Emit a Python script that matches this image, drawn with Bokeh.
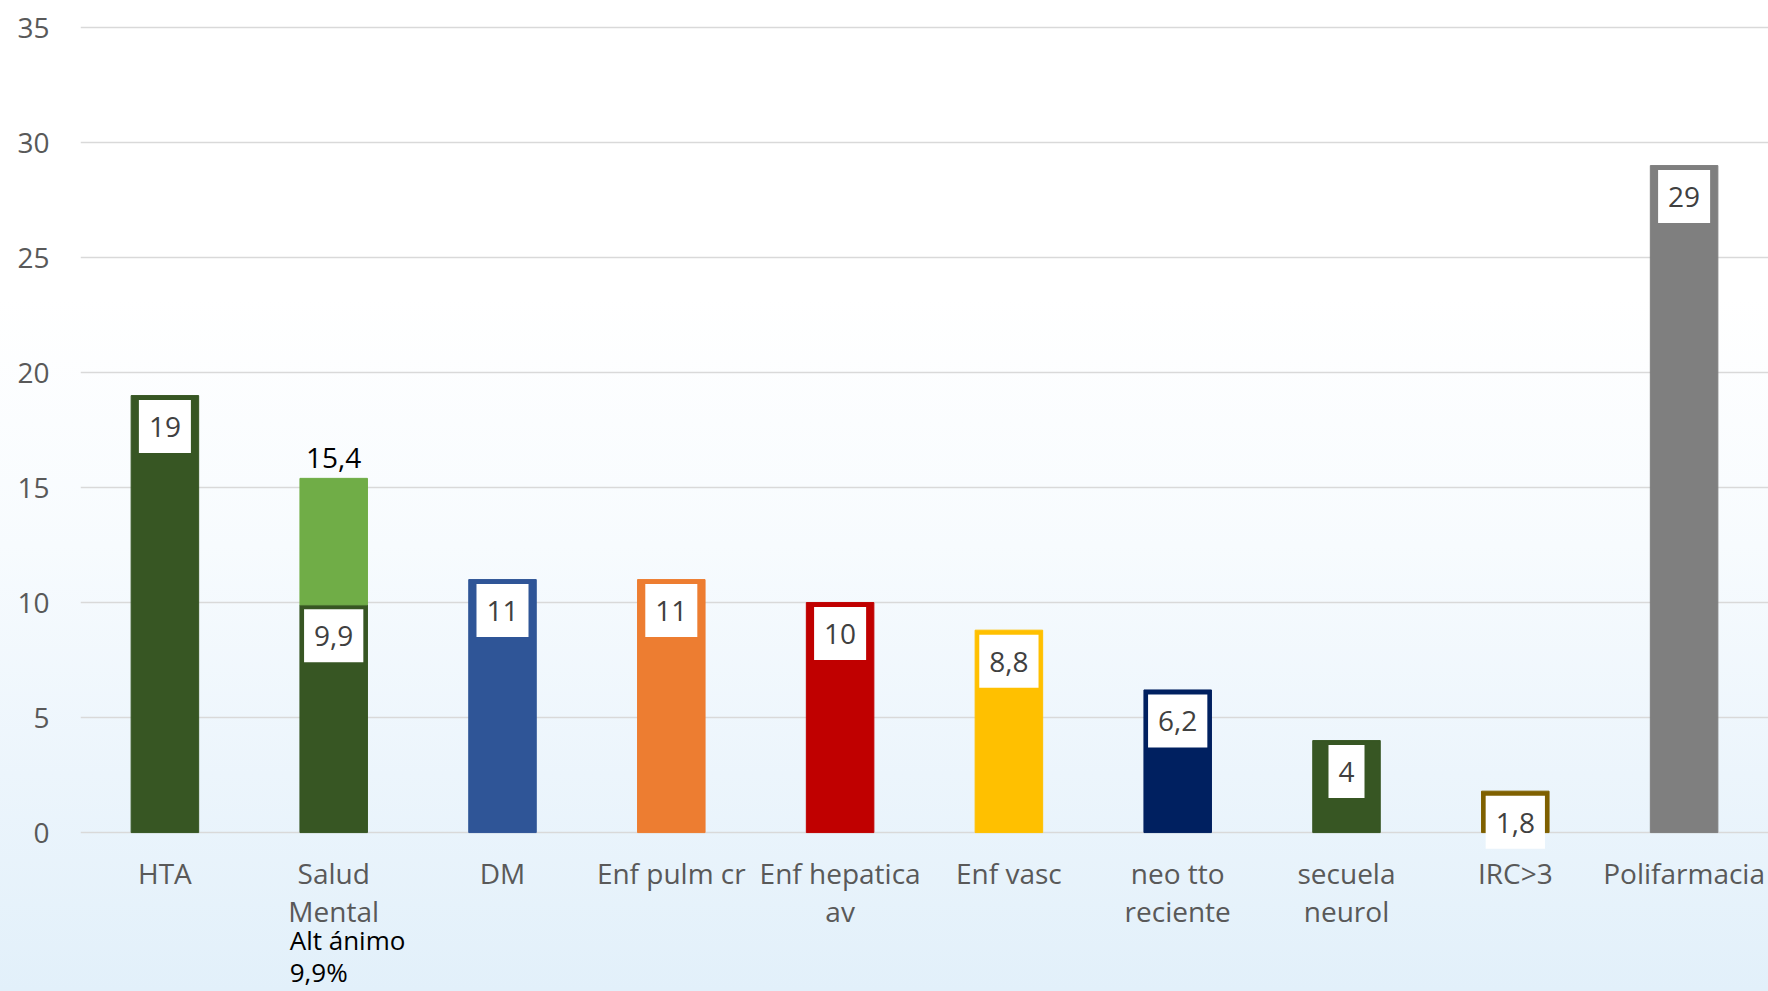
from bokeh.plotting import figure
from bokeh.models import FixedTicker, Range1d, FactorRange, ColumnDataSource
from bokeh.core.properties import value
from bokeh.embed import file_html
from bokeh.resources import INLINE

# ---- data ----
categories = ["HTA", "Salud\nMental", "DM", "Enf pulm cr", "Enf hepatica\nav",
              "Enf vasc", "neo tto\nreciente", "secuela\nneurol", "IRC>3", "Polifarmacia"]
values = [19, 9.9, 11, 11, 10, 8.8, 6.2, 4, 1.8, 29]
value_labels = ["19", "9,9", "11", "11", "10", "8,8", "6,2", "4", "1,8", "29"]
bar_colors = ["#375623", "#375623", "#2F5597", "#ED7D31", "#C00000",
              "#FFC000", "#002060", "#375623", "#7F6000", "#7F7F7F"]
salud_category = "Salud\nMental"
salud_base = 9.9
salud_total = 15.4
salud_total_label = "15,4"
salud_note = "Alt ánimo\n9,9%"
y_ticks = [0, 5, 10, 15, 20, 25, 30, 35]

FONT = value("Open Sans")

p = figure(width=1768, height=991,
           x_range=FactorRange(*categories, range_padding=0),
           y_range=Range1d(-6.91, 35.22),
           x_axis_location=None,
           output_backend="svg", toolbar_location=None,
           min_border_left=80, min_border_right=0,
           min_border_top=22, min_border_bottom=0)

p.background_fill_color = None
p.border_fill_color = None
p.outline_line_color = None
p.styles = {"background": "linear-gradient(to top, #E2F0FA 0%, #ECF5FC 22%, #F7FBFE 45%, #FFFFFF 70%)"}

p.yaxis.ticker = FixedTicker(ticks=y_ticks)
p.yaxis.axis_line_color = None
p.yaxis.major_tick_line_color = None
p.yaxis.minor_tick_line_color = None
p.yaxis.major_tick_out = 0
p.yaxis.major_tick_in = 0
p.yaxis.major_label_standoff = 31
p.yaxis.major_label_text_font = "Open Sans"
p.yaxis.major_label_text_font_size = "28px"
p.yaxis.major_label_text_color = "#595959"

p.ygrid.ticker = FixedTicker(ticks=y_ticks)
p.ygrid.grid_line_color = "#D9D9D9"
p.ygrid.grid_line_width = 1.6
if p.xgrid:
    p.xgrid.visible = False

src = ColumnDataSource(dict(cat=categories, val=values, lab=value_labels, col=bar_colors,
                            zero=[0] * len(categories)))

p.vbar(x="cat", top="val", width=0.4, color="col", source=src)
p.vbar(x=[salud_category], bottom=[salud_base], top=[salud_total], width=0.4, color="#70AD47")

# value boxes
p.text(x="cat", y="val", text="lab", source=src, y_offset=31,
       text_align="center", text_baseline="middle",
       text_font=FONT, text_font_size="28px", text_color="#404040",
       background_fill_color="white",
       padding=dict(left=10, right=10, top=17, bottom=16))

# total label for Salud Mental
p.text(x=[salud_category], y=[salud_total], text=[salud_total_label], y_offset=-20,
       text_align="center", text_baseline="alphabetic",
       text_font=FONT, text_font_size="28px", text_color="black")

# category labels
p.text(x="cat", y="zero", text="cat", source=src, y_offset=21,
       text_align="center", text_baseline="top",
       text_font=FONT, text_font_size="28px", text_color="#595959",
       text_line_height=1.02)

# note under Salud Mental
p.text(x=[salud_category], y=[0], text=[salud_note], x_offset=-44, y_offset=89,
       text_align="left", text_baseline="top",
       text_font=FONT, text_font_size="26px", text_color="black",
       text_line_height=0.9)

open("out.html", "w").write(file_html(p, INLINE))
